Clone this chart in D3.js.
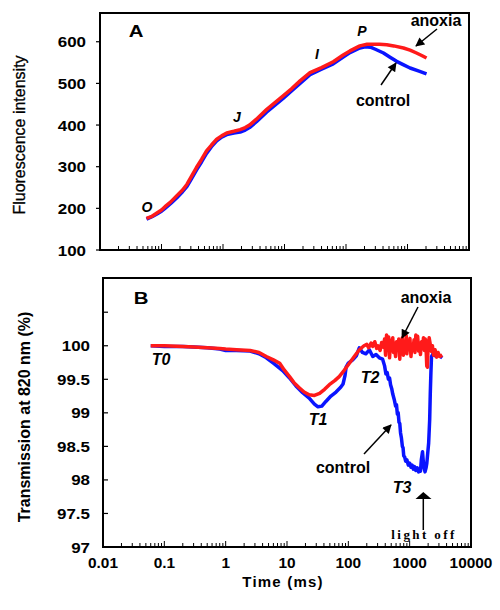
<!DOCTYPE html>
<html><head><meta charset="utf-8">
<script src="https://cdn.jsdelivr.net/npm/d3@7"></script>
<style>body{margin:0;background:#fff}svg{display:block}</style>
</head><body>
<svg id="c" width="500" height="610"></svg>
<script>
// ---------- DATA ----------
const xTickLabels = ["0.01","0.1","1","10","100","1000","10000"];
const aYTicks = [100,200,300,400,500,600];
const bYTicks = [97,97.5,98,98.5,99,99.5,100];

// Panel A: fluorescence (OJIP)
const aAnoxiaT = [0.057,0.07,0.083,0.1,0.114,0.14,0.176,0.22,0.26,0.31,0.37,0.45,0.54,0.65,0.79,0.95,1.15,1.5,1.9,2.3,2.7,3.5,5.1,7,9.5,13,17.9,26,40,62,90,116,168,220,276,350,460,600,860,1100,1400,1700,2040];
const aAnoxiaV = [176,181,188,196,204,215,230,244,258,278,298,318,338,352,366,374,381,385,389,394,400,414,437,454,470,487,506,526,538,552,568,578,590,594,594,594,593,590,585,580,573,567,561];
const aControlT = [0.057,0.07,0.083,0.1,0.114,0.14,0.176,0.22,0.26,0.31,0.37,0.45,0.54,0.65,0.79,0.95,1.15,1.5,1.9,2.3,2.7,3.5,5.1,7,9.5,13,17.9,26,40,62,90,116,168,205,250,300,407,520,665,850,1100,1500,2040];
const aControlV = [174,180,186,193,200,211,225,240,253,272,292,312,332,348,362,371,377,381,383,388,394,408,431,448,464,482,500,521,534,547,563,574,585,588,587,582,573,563,553,545,537,530,523];

// Panel B: 820 nm transmission
const bControlT = [0.06,0.1,0.2,0.3,0.5,0.8,1,1.5,2.5,3.5,4.6,6,8.5,11,14,18,23,28,32,37,43,52,63,75,82,88,92,100,118,135,151,170,193,220,250,283,320,362,390,410,430,450,470,488,510,530,560,590,610,630,650,670,690,710,735,760,780,800,830,860,900,950,1000,1050,1100,1150,1200,1260,1330,1400,1450,1500,1550,1620,1660,1700,1780,1850,1900,1970,2040,2120,2170,2220,2270,2400,2700,3000,3400];
const bControlV = [100.0,99.99,99.99,99.98,99.97,99.95,99.93,99.93,99.92,99.88,99.82,99.74,99.63,99.52,99.4,99.3,99.22,99.13,99.09,99.1,99.17,99.25,99.31,99.38,99.43,99.55,99.68,99.74,99.79,99.85,99.97,99.9,99.88,99.94,99.84,99.87,99.82,99.8,99.7,99.58,99.6,99.5,99.52,99.42,99.36,99.28,99.2,99.1,99.12,98.98,99.0,98.86,98.84,98.7,98.62,98.5,98.48,98.36,98.34,98.28,98.3,98.22,98.25,98.19,98.22,98.16,98.2,98.14,98.18,98.12,98.16,98.13,98.3,98.42,98.3,98.2,98.12,98.18,98.24,98.4,98.55,98.9,99.3,99.6,99.84,99.88,99.84,99.86,99.82];
const bAnoxiaT = [0.06,0.1,0.2,0.3,0.5,0.8,1,1.5,2.5,3.5,4.6,6,7.6,9,11,13,16,19,23,28,34,41,49,60,71,85,104,125,151,180,200,215,235,250,270,290,305,330,350,370,390,405,420,440,455,470,490,510,530,545,565,590,610,640,665,690,710,740,760,790,820,850,880,900,940,980,1010,1050,1090,1130,1180,1220,1260,1300,1350,1400,1450,1500,1560,1620,1680,1740,1800,1850,1900,1950,2000,2080,2150,2250,2350,2450,2600,2750,2900,3100,3400];
const bAnoxiaV = [100.0,100.0,99.99,99.98,99.97,99.96,99.95,99.94,99.93,99.9,99.84,99.79,99.74,99.64,99.54,99.45,99.37,99.31,99.27,99.26,99.29,99.35,99.42,99.48,99.54,99.63,99.74,99.84,99.94,100.0,100.02,99.97,100.04,99.99,100.06,99.96,100.0,99.93,100.05,99.98,100.1,99.86,100.16,99.95,100.13,99.82,100.08,99.97,100.12,99.9,99.99,99.84,100.06,99.95,100.1,99.8,100.02,99.9,100.12,99.86,100.04,99.93,100.15,99.88,100.05,99.97,100.11,99.84,100.02,99.94,100.09,99.9,100.16,99.98,100.14,99.92,100.02,99.87,100.06,99.96,100.12,99.93,100.1,99.98,99.7,99.68,100.02,100.12,100.04,99.92,100.0,99.86,99.94,99.83,99.9,99.84,99.86];

// ---------- DRAW ----------
const svg = d3.select("#c");
const RED = "#ff1a1a", BLUE = "#0a14ff";
const FONT = "Liberation Sans, Arial, sans-serif";

const defs = svg.append("defs");
defs.append("marker").attr("id","ah").attr("viewBox","0 0 10 10")
  .attr("refX",9).attr("refY",5).attr("markerWidth",10).attr("markerHeight",9)
  .attr("markerUnits","userSpaceOnUse").attr("orient","auto")
  .append("path").attr("d","M0,0 L10,5 L0,10 Z").attr("fill","#000");

function label(x, y, txt, o={}) {
  const sx = o.sx || 1;
  return svg.append("text")
    .attr("transform", `translate(${x},${y}) scale(${sx},1)` + (o.rot ? ` rotate(${o.rot})` : ""))
    .attr("text-anchor", o.anchor || "middle")
    .attr("font-family", o.family || FONT)
    .attr("font-size", o.size || 14)
    .attr("font-weight", o.weight || "bold")
    .attr("font-style", o.style || "normal")
    .attr("letter-spacing", o.ls || 0)
    .attr("fill", "#000")
    .text(txt);
}
function arrow(x1,y1,x2,y2){
  svg.append("line").attr("x1",x1).attr("y1",y1).attr("x2",x2).attr("y2",y2)
    .attr("stroke","#000").attr("stroke-width",1.5).attr("marker-end","url(#ah)");
}

function logTicks(g, x, yb) {
  for (let e = -2; e < 4; e++) {
    for (let m = 1; m <= 9; m++) {
      const v = m * Math.pow(10, e);
      const len = m === 1 ? 6 : 4;
      g.append("line").attr("x1", x(v)).attr("x2", x(v)).attr("y1", yb).attr("y2", yb - len)
        .attr("stroke", "#000").attr("stroke-width", 1);
    }
  }
  g.append("line").attr("x1", x(10000)).attr("x2", x(10000)).attr("y1", yb).attr("y2", yb - 6)
    .attr("stroke", "#000").attr("stroke-width", 1);
}

// Panel A
const A = {l:100, r:469, t:13, b:250};
const xA = d3.scaleLog().domain([0.01,10000]).range([A.l, A.r]);
const yA = d3.scaleLinear().domain([100,669]).range([A.b, A.t]);
const gA = svg.append("g");
const lineA = (T,V) => d3.line().x((d,i)=>xA(T[i])).y((d,i)=>yA(V[i]))(V);
gA.append("path").attr("d", lineA(aControlT,aControlV)).attr("fill","none").attr("stroke",BLUE).attr("stroke-width",3.5).attr("stroke-linejoin","round");
gA.append("path").attr("d", lineA(aAnoxiaT,aAnoxiaV)).attr("fill","none").attr("stroke",RED).attr("stroke-width",3.5).attr("stroke-linejoin","round");
gA.append("rect").attr("x",A.l).attr("y",A.t).attr("width",A.r-A.l).attr("height",A.b-A.t)
  .attr("fill","none").attr("stroke","#000").attr("stroke-width",2);
aYTicks.forEach(v => {
  gA.append("line").attr("x1",A.l-4).attr("x2",A.l).attr("y1",yA(v)).attr("y2",yA(v)).attr("stroke","#000").attr("stroke-width",1.2);
  label(86, yA(v)+5.5, String(v), {anchor:"end", size:15, sx:1.13});
});
logTicks(gA, xA, A.b);

// Panel B
const B = {l:103, r:471, t:278, b:547};
const xB = d3.scaleLog().domain([0.01,10000]).range([B.l, B.r]);
const yB = d3.scaleLinear().domain([97,101.01]).range([B.b, B.t]);
const gB = svg.append("g");
const lineB = (T,V) => d3.line().x((d,i)=>xB(T[i])).y((d,i)=>yB(V[i]))(V);
gB.append("path").attr("d", lineB(bControlT,bControlV)).attr("fill","none").attr("stroke",BLUE).attr("stroke-width",3.5).attr("stroke-linejoin","round");
gB.append("path").attr("d", lineB(bAnoxiaT,bAnoxiaV)).attr("fill","none").attr("stroke",RED).attr("stroke-width",3.5).attr("stroke-linejoin","round");
gB.append("rect").attr("x",B.l).attr("y",B.t).attr("width",B.r-B.l).attr("height",B.b-B.t)
  .attr("fill","none").attr("stroke","#000").attr("stroke-width",2);
[...bYTicks, 100.5].forEach(v => {
  gB.append("line").attr("x1",B.l).attr("x2",B.l+5).attr("y1",yB(v)).attr("y2",yB(v)).attr("stroke","#000").attr("stroke-width",1.2);
});
bYTicks.forEach(v => label(90, yB(v)+5.5, String(v), {anchor:"end", size:15, sx:1.13}));
logTicks(gB, xB, B.b);
xTickLabels.forEach(s => label(xB(+s), 568, s, {size:14, sx:1.1}));

// Axis titles
label(0,0,"Fluorescence intensity",{size:16, weight:"normal"}).attr("transform","translate(25,135) rotate(-90)").attr("stroke","#000").attr("stroke-width",0.3);
label(0,0,"Transmission at 820 nm (%)",{size:16}).attr("transform","translate(30,417) rotate(-90)");
label(283, 587, "Time (ms)", {size:15, ls:1.2});

// Panel letters
label(136, 37, "A", {size:17, sx:1.2});
label(141, 304, "B", {size:17, sx:1.2});

// Panel A annotations
label(147, 212, "O", {size:14, style:"italic"});
label(237, 122, "J", {size:14, style:"italic"});
label(317, 59, "I", {size:14, style:"italic"});
label(362, 36, "P", {size:14, style:"italic"});
label(436, 26, "anoxia", {size:16});
label(383, 106, "control", {size:16});
arrow(437, 29, 416, 46);
arrow(381, 85, 396, 63);

// Panel B annotations
label(161, 365, "T0", {size:16, style:"italic"});
label(318, 425, "T1", {size:16, style:"italic"});
label(370, 383, "T2", {size:16, style:"italic"});
label(402, 493, "T3", {size:16, style:"italic"});
label(426, 303, "anoxia", {size:16});
label(343, 473, "control", {size:16});
arrow(418, 307, 402, 338);
arrow(364, 454, 391, 425);
svg.append("line").attr("x1",423.3).attr("x2",423.3).attr("y1",530).attr("y2",498).attr("stroke","#000").attr("stroke-width",1.5);
svg.append("path").attr("d","M415.5,499 L423.3,492 L431.5,499 Z").attr("fill","#000");
label(424, 539, "light off", {size:13, family:"Liberation Serif, Times New Roman, serif", ls:2.4});
</script>
</body></html>
